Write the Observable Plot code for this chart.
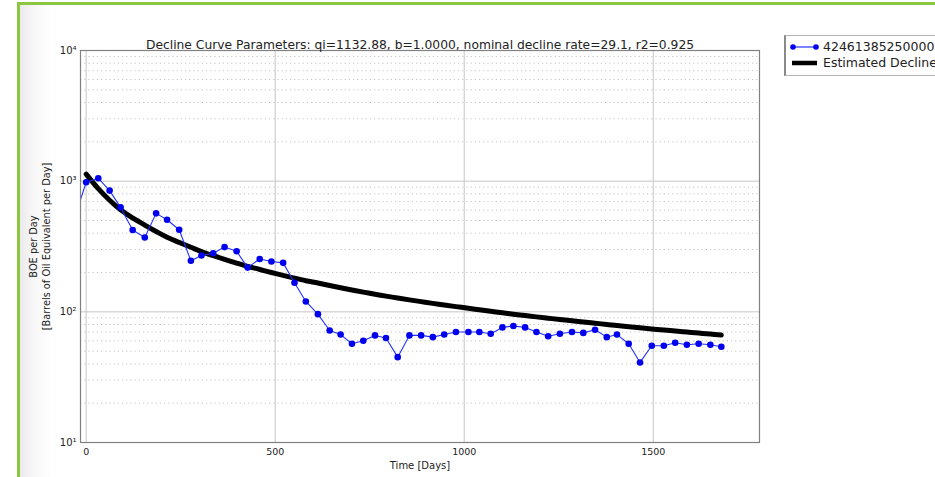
<!DOCTYPE html>
<html>
<head>
<meta charset="utf-8">
<script src="https://cdn.jsdelivr.net/npm/d3@7"></script>
<script src="https://cdn.jsdelivr.net/npm/@observablehq/plot@0.6"></script>
<style>
html,body{margin:0;padding:0;width:935px;height:477px;overflow:hidden;background:#fff;font-family:"DejaVu Sans",sans-serif;}
#page{position:absolute;left:17px;top:2px;width:1000px;height:600px;border-left:3px solid #8dc63f;border-top:3px solid #8dc63f;background:linear-gradient(to right,#ebebeb 0px,#f7f7f7 14px,#fff 32px);}
#chart{position:absolute;left:0;top:0;}
#legend{position:absolute;left:784px;top:35px;width:220px;height:39px;border:1px solid #b5b5b5;border-left:2px solid #8a8a8a;background:#fff;font-size:12.5px;color:#222;}
.row{position:absolute;left:0;height:16px;white-space:nowrap;}
.row svg{position:absolute;left:4px;top:0;}
.row span{position:absolute;left:37px;top:0;line-height:16px;}
</style>
</head>
<body>
<div id="page"></div>
<div id="chart"></div>
<div id="legend">
  <div class="row" style="top:3px"><svg width="30" height="16"><line x1="3" y1="8" x2="26" y2="8" stroke="#2233ff" stroke-width="1.2"/><circle cx="3" cy="8" r="2.8" fill="#0000ee"/><circle cx="26" cy="8" r="2.8" fill="#0000ee"/></svg><span id="lg1"></span></div>
  <div class="row" style="top:19px"><svg width="30" height="16"><line x1="2" y1="8" x2="27" y2="8" stroke="#000" stroke-width="4.5"/></svg><span id="lg2"></span></div>
</div>
<script>
// ---- data ----
const wellName = "42461385250000";
const declineName = "Estimated Decline";
const titleText = "Decline Curve Parameters: qi=1132.88, b=1.0000, nominal decline rate=29.1, r2=0.925";
const xLabel = "Time [Days]";
const yLabelLines = ["BOE per Day", "[Barrels of Oil Equivalent per Day]"];

const prodDays = [-30, 0, 32, 62, 91, 123, 155, 185, 214, 246, 277, 305, 336, 366, 398, 427, 459, 490, 521, 551, 581,
  613, 644, 673, 703, 733, 764, 793, 824, 855, 886, 917, 947, 978, 1011, 1040, 1070, 1101, 1130, 1161, 1191,
  1222, 1253, 1285, 1315, 1346, 1377, 1404, 1435, 1465, 1496, 1528, 1558, 1589, 1620, 1651, 1680];
const prodBoe = [530, 981, 1053, 847, 630, 423, 371, 567, 507, 425, 246, 270, 281, 313, 291, 218, 254, 243, 237, 167, 120,
  96, 72, 67, 57, 60, 66, 63, 45, 66, 66, 64, 67, 70, 70, 70, 68, 76, 78, 76, 70,
  65, 68, 70, 69, 73, 64, 67, 57, 41, 55, 55, 58, 56, 57, 56, 54];

const declineDays = prodDays.slice(1);
const declineBoe = [1133, 877, 715, 604, 523, 461, 412, 372, 340, 312, 289, 269, 252, 236, 223, 211, 200, 190, 181, 173,
  166, 159, 153, 147, 141.5, 136.5, 131.9, 127.6, 123.5, 119.7, 116.1, 112.7, 109.6, 106.5, 103.7, 101, 98.4, 96, 93.7, 91.5,
  89.4, 87.4, 85.4, 83.6, 81.8, 80.1, 78.5, 77, 75.5, 74, 72.6, 71.3, 70, 68.8, 67.6, 66.4];

const xTicks = [0, 500, 1000, 1500];
const yMajorTicks = [10, 100, 1000, 10000];
const yMinorTicks = [20,30,40,50,60,70,80,90,200,300,400,500,600,700,800,900,2000,3000,4000,5000,6000,7000,8000,9000];

// ---- build ----
const prod = prodDays.map((d, i) => ({day: d, boe: prodBoe[i]}));
const decl = declineDays.map((d, i) => ({day: d, boe: declineBoe[i]}));
const sup = {"1":"\u00b9","2":"\u00b2","3":"\u00b3","4":"\u2074"};

document.getElementById("lg1").textContent = wellName;
document.getElementById("lg2").textContent = declineName;

const chart = Plot.plot({
  width: 935,
  height: 477,
  marginLeft: 80,
  marginRight: 176,
  marginTop: 50,
  marginBottom: 35,
  style: {background: "transparent", fontFamily: "DejaVu Sans, sans-serif", fontSize: "9.5px", color: "#222", overflow: "visible"},
  x: {domain: [-15, 1781]},
  y: {type: "log", domain: [10, 10000]},
  marks: [
    Plot.ruleY(yMinorTicks, {stroke: "#c4c4c4", strokeDasharray: "1.2,3"}),
    Plot.ruleY(yMajorTicks, {stroke: "#c6c6c6"}),
    Plot.ruleX(xTicks, {stroke: "#c6c6c6"}),
    Plot.line(decl, {x: "day", y: "boe", stroke: "#000", strokeWidth: 5, curve: "catmull-rom", clip: true}),
    Plot.line(prod, {x: "day", y: "boe", stroke: "#2233ff", strokeWidth: 1.1, clip: true}),
    Plot.dot(prod, {x: "day", y: "boe", fill: "#0000ee", r: 3.3, clip: true}),
    Plot.frame({stroke: "#808080", strokeWidth: 1.2}),
    Plot.axisX({ticks: xTicks, tickSize: 0, tickPadding: 6, label: null, tickFormat: d => String(d)}),
    Plot.axisY({ticks: yMajorTicks, tickSize: 0, tickPadding: 4, label: null, fontSize: 10, tickFormat: d => "10" + sup[String(Math.round(Math.log10(d)))]}),
    Plot.text([titleText], {text: d => d, frameAnchor: "top", dy: -10, fontSize: 12.3}),
    Plot.text([xLabel], {text: d => d, frameAnchor: "bottom", dy: 26, fontSize: 10}),
    Plot.text([yLabelLines.join("\n")], {text: d => d, frameAnchor: "left", textAnchor: "middle", dx: -41, rotate: -90, fontSize: 9.8, lineHeight: 1.25})
  ]
});
document.getElementById("chart").appendChild(chart);
</script>
</body>
</html>
